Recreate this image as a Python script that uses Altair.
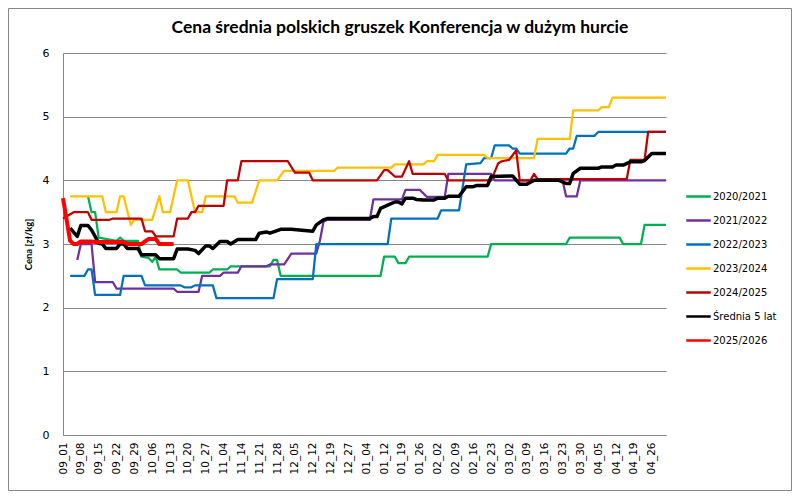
import json
import pandas as pd
import altair as alt

# weekly tick labels, one every 5 data points
tick_labels = ['09_01', '09_08', '09_15', '09_22', '09_29', '10_06', '10_13', '10_20', '10_27',
               '11_04', '11_14', '11_21', '11_28', '12_05', '12_12', '12_19', '12_27', '01_04',
               '01_12', '01_19', '01_26', '02_02', '02_09', '02_16', '02_23', '03_02', '03_09',
               '03_16', '03_23', '03_30', '04_05', '04_12', '04_19', '04_26']

title_text = 'Cena średnia polskich gruszek Konferencja w dużym hurcie'

series_names = ['2020/2021', '2021/2022', '2022/2023', '2023/2024', '2024/2025',
                'Średnia 5 lat', '2025/2026']
series_colors = ['#00B050', '#7030A0', '#0070C0', '#FFC000', '#C00000', '#000000', '#FF0000']
series_widths = [2.25, 2.25, 2.25, 2.25, 2.25, 3.5, 4]

# vertices of each line: point index / price [zł/kg]
s2020_i = [7, 8, 9, 10, 15, 16, 17, 21, 22, 24, 25, 26, 27, 32, 33, 41, 42, 46, 47, 58, 59, 60, 61,
           89, 90, 93, 94, 96, 97, 119, 120, 141, 142, 156, 157, 162, 163, 169]
s2020_v = [3.75, 3.5, 3.5, 3.1, 3.05, 3.1, 3.05, 3.05, 2.8, 2.78, 2.72, 2.8, 2.6, 2.6, 2.55, 2.55, 2.6,
           2.6, 2.65, 2.65, 2.75, 2.75, 2.5, 2.5, 2.8, 2.8, 2.7, 2.7, 2.8, 2.8, 3.0, 3.0, 3.1, 3.1, 3.0,
           3.0, 3.3, 3.3]

s2021_i = [4, 5, 8, 9, 14, 15, 31, 32, 38, 39, 44, 45, 49, 50, 57, 58, 62, 64, 71, 72, 73, 74, 86, 87,
           95, 96, 100, 102, 107, 108, 120, 121, 140, 141, 144, 145, 169]
s2021_v = [2.75, 3.0, 3.0, 2.4, 2.4, 2.3, 2.3, 2.25, 2.25, 2.5, 2.5, 2.55, 2.55, 2.65, 2.65, 2.68, 2.68,
           2.85, 2.85, 3.05, 3.35, 3.38, 3.38, 3.7, 3.7, 3.85, 3.85, 3.74, 3.74, 4.1, 4.1, 4.0, 4.0,
           3.75, 3.75, 4.0, 4.0]

s2022_i = [2, 6, 7, 8, 9, 16, 17, 22, 23, 33, 34, 36, 37, 42, 43, 59, 60, 70, 71, 91, 92, 105, 106,
           111, 113, 117, 118, 120, 121, 125, 126, 127, 128, 141, 142, 143, 144, 149, 150, 169]
s2022_v = [2.5, 2.5, 2.6, 2.6, 2.2, 2.2, 2.5, 2.5, 2.35, 2.35, 2.32, 2.32, 2.35, 2.35, 2.15, 2.15, 2.45,
           2.45, 3.0, 3.0, 3.4, 3.4, 3.53, 3.53, 4.25, 4.27, 4.35, 4.35, 4.55, 4.55, 4.5, 4.5, 4.42,
           4.42, 4.5, 4.5, 4.7, 4.7, 4.76, 4.76]

s2023_i = [2, 11, 12, 15, 16, 17, 19, 20, 25, 27, 28, 30, 32, 35, 36, 37, 39, 40, 48, 49, 53, 55, 60,
           62, 76, 77, 92, 93, 101, 102, 104, 105, 118, 119, 132, 133, 142, 143, 150, 151, 153, 154, 169]
s2023_v = [3.75, 3.75, 3.5, 3.5, 3.75, 3.75, 3.3, 3.38, 3.38, 3.75, 3.5, 3.5, 4.0, 4.0, 3.75, 3.5, 3.5,
           3.75, 3.75, 3.65, 3.65, 4.0, 4.0, 4.15, 4.15, 4.2, 4.2, 4.25, 4.25, 4.3, 4.3, 4.4, 4.4, 4.35,
           4.35, 4.65, 4.65, 5.1, 5.1, 5.15, 5.15, 5.3, 5.3]

s2024_i = [0, 3, 7, 8, 13, 14, 22, 23, 25, 26, 31, 32, 35, 36, 37, 38, 45, 46, 49, 50, 63, 65, 69, 70,
           88, 90, 91, 93, 95, 97, 98, 107, 108, 120, 122, 123, 125, 127, 128, 131, 132, 133, 158, 159,
           163, 164, 169]
s2024_v = [3.4, 3.5, 3.5, 3.38, 3.38, 3.4, 3.4, 3.2, 3.2, 3.12, 3.12, 3.4, 3.4, 3.5, 3.5, 3.6, 3.6, 4.0,
           4.0, 4.3, 4.3, 4.12, 4.12, 4.0, 4.0, 4.16, 4.16, 4.06, 4.06, 4.3, 4.1, 4.1, 4.0, 4.0, 4.27,
           4.3, 4.32, 4.47, 4.0, 4.0, 4.1, 4.02, 4.02, 4.32, 4.32, 4.76, 4.76]

avg_i = [2, 4, 5, 7, 8, 9, 10, 11, 12, 15, 16, 17, 18, 21, 22, 26, 27, 31, 32, 35, 37, 38, 40, 41, 42,
         44, 46, 47, 49, 54, 55, 57, 58, 61, 64, 70, 71, 73, 74, 86, 87, 88, 89, 91, 93, 94, 95, 96, 98,
         99, 101, 104, 105, 107, 108, 111, 113, 115, 116, 119, 120, 126, 128, 130, 131, 132, 139, 141,
         142, 143, 145, 150, 151, 154, 155, 157, 159, 162, 163, 165, 169]
avg_v = [3.25, 3.12, 3.29, 3.29, 3.22, 3.12, 3.01, 3.0, 2.93, 2.93, 3.0, 3.0, 2.93, 2.93, 2.83, 2.83,
         2.77, 2.77, 2.92, 2.92, 2.9, 2.85, 2.97, 2.97, 2.93, 3.04, 3.04, 3.0, 3.07, 3.07, 3.17, 3.19,
         3.17, 3.23, 3.23, 3.2, 3.3, 3.38, 3.4, 3.4, 3.43, 3.43, 3.56, 3.61, 3.66, 3.66, 3.63, 3.72,
         3.72, 3.7, 3.69, 3.69, 3.72, 3.72, 3.75, 3.75, 3.9, 3.9, 3.92, 3.92, 4.06, 4.07, 3.94, 3.94,
         3.97, 4.0, 4.0, 3.95, 3.95, 4.11, 4.19, 4.19, 4.21, 4.21, 4.24, 4.24, 4.29, 4.29, 4.31, 4.42,
         4.42]

s2025_i = [0, 2, 3, 4, 5, 8, 9, 17, 18, 22, 24, 26, 27, 31]
s2025_v = [3.72, 3.05, 3.0, 3.0, 3.04, 3.04, 3.03, 3.03, 3.0, 3.0, 3.08, 3.08, 3.0, 3.0]

series_i = [s2020_i, s2021_i, s2022_i, s2023_i, s2024_i, avg_i, s2025_i]
series_v = [s2020_v, s2021_v, s2022_v, s2023_v, s2024_v, avg_v, s2025_v]

frames = []
for name, xs, ys in zip(series_names, series_i, series_v):
    frames.append(pd.DataFrame({'i': xs, 'v': ys, 'sezon': name}))
df = pd.concat(frames, ignore_index=True)

grid_col = '#868686'
label_expr = json.dumps(tick_labels) + '[round(datum.value / 5)]'

x_enc = alt.X('i:Q', scale=alt.Scale(domain=[0, 169], nice=False, zero=False),
              axis=alt.Axis(values=list(range(0, 170, 5)), labelExpr=label_expr, title=None,
                            labelAngle=270, labelAlign='right', labelBaseline='middle',
                            labelPadding=7, ticks=False, tickSize=0, grid=False,
                            domainColor=grid_col, labelFont='DejaVu Sans', labelFontSize=10.5,
                            labelColor='#000000', labelOverlap=False))
y_enc = alt.Y('v:Q', scale=alt.Scale(domain=[0, 6], nice=False),
              axis=alt.Axis(values=[0, 1, 2, 3, 4, 5, 6], title='Cena [zł/kg]', ticks=False,
                            tickSize=0, labelPadding=14, gridColor=grid_col, domainColor=grid_col,
                            labelFont='DejaVu Sans', labelFontSize=11, labelColor='#000000',
                            titleFont='Lato', titleFontSize=9.5, titleFontWeight='bold',
                            titleColor='#000000', titlePadding=9))
color_enc = alt.Color('sezon:N',
                      scale=alt.Scale(domain=series_names, range=series_colors),
                      legend=alt.Legend(orient='none', legendX=622, legendY=130, title=None,
                                        symbolType='stroke', symbolStrokeWidth=2.5,
                                        symbolSize=600, labelFont='DejaVu Sans', labelFontSize=10,
                                        labelColor='#000000', rowPadding=5, padding=0,
                                        labelOffset=1))

layers = []
for name, w in zip(series_names, series_widths):
    layers.append(
        alt.Chart(df).transform_filter(alt.datum.sezon == name)
        .mark_line(strokeWidth=w, strokeJoin='round')
        .encode(x=x_enc, y=y_enc, color=color_enc)
    )

# outer frame of the chart and the title above the plot
frame = alt.Chart(pd.DataFrame({'a': [0]})).mark_rect(
    fillOpacity=0, stroke=grid_col, strokeWidth=1
).encode(x=alt.value(-54.5), x2=alt.value(728.5), y=alt.value(-44.5), y2=alt.value(437.5))

title = alt.Chart(pd.DataFrame({'t': [title_text]})).mark_text(
    font='Lato', fontSize=17.5, fontWeight='bold', color='#000000',
    align='center', baseline='middle'
).encode(text='t:N', x=alt.value(337), y=alt.value(-25))

chart = alt.layer(frame, title, *layers).properties(
    width=603, height=382,
    autosize=alt.AutoSizeParams(type='none'),
    padding={'left': 55, 'top': 45, 'right': 126, 'bottom': 56},
).configure_view(stroke=None).configure_axis(gridWidth=1, domainWidth=1)

chart.save('out.html', embed_options={'renderer': 'svg', 'actions': False})
